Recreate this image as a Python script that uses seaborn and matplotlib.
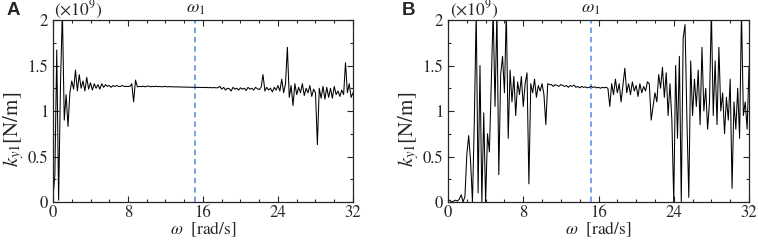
import numpy as np
import pandas as pd
import matplotlib
matplotlib.use("Agg")
import matplotlib.pyplot as plt
from matplotlib.ticker import MultipleLocator, FixedLocator
import seaborn as sns

# frequency grid [rad/s]
omega = np.round(np.arange(0, 161) * 0.2, 1)

# Panel A: k_y1 (x1e9 N/m)
ky1_a = [
    0.05, 0.30, 1.67, 0.02, 1.30, 2.10, 0.90, 1.18, 0.83, 1.20,
    1.33, 1.24, 1.45, 1.22, 1.40, 1.25, 1.33, 1.22, 1.37, 1.24,
    1.31, 1.23, 1.30, 1.25, 1.29, 1.24, 1.30, 1.26, 1.29, 1.27,
    1.28, 1.26, 1.28, 1.27, 1.28, 1.27, 1.27, 1.28, 1.27, 1.27,
    1.27, 1.27, 1.30, 1.10, 1.34, 1.265, 1.27, 1.268, 1.272, 1.266,
    1.27, 1.275, 1.266, 1.27, 1.268, 1.272, 1.267, 1.27, 1.266, 1.268,
    1.27, 1.265, 1.268, 1.266, 1.267, 1.264, 1.266, 1.263, 1.265, 1.262,
    1.264, 1.261, 1.263, 1.26, 1.262, 1.26, 1.261, 1.259, 1.26, 1.258,
    1.26, 1.257, 1.259, 1.256, 1.258, 1.255, 1.258, 1.254, 1.257, 1.27,
    1.24, 1.26, 1.23, 1.25, 1.245, 1.22, 1.26, 1.24, 1.25, 1.23,
    1.255, 1.24, 1.25, 1.225, 1.26, 1.24, 1.25, 1.23, 1.26, 1.245,
    1.235, 1.26, 1.40, 1.22, 1.26, 1.23, 1.25, 1.21, 1.26, 1.23,
    1.28, 1.22, 1.35, 1.20, 1.30, 1.70, 1.15, 1.28, 1.06, 1.30,
    1.18, 1.26, 1.20, 1.30, 1.17, 1.25, 1.20, 1.28, 1.16, 1.24,
    1.20, 0.63, 1.25, 1.14, 1.27, 1.13, 1.26, 1.15, 1.25, 1.14,
    1.27, 1.18, 1.22, 1.16, 1.23, 1.18, 1.53, 1.20, 1.30, 1.15,
    1.20,
]

# Panel B: k_y1 (x1e9 N/m)
ky1_b = [
    0.01, 0.02, 0.00, 0.01, 0.02, 0.01, 0.03, 0.08, 0.00, 0.06,
    0.52, 0.73, 0.45, 0.00, 0.90, 2.10, 0.10, 1.50, 0.00, 0.98,
    0.00, 0.75, 0.55, 1.30, 2.10, 1.05, 2.10, 0.30, 1.40, 1.60,
    1.20, 2.10, 0.70, 1.45, 1.10, 1.38, 0.95, 1.32, 1.18, 1.38,
    1.05, 1.30, 1.42, 0.20, 1.30, 1.20, 1.35, 1.15, 1.28, 1.22,
    1.30, 1.18, 0.85, 1.30, 1.29, 1.29, 1.27, 1.29, 1.28, 1.27,
    1.29, 1.28, 1.27, 1.28, 1.26, 1.28, 1.27, 1.285, 1.26, 1.27,
    1.255, 1.27, 1.26, 1.265, 1.255, 1.26, 1.27, 1.26, 1.265, 1.255,
    1.26, 1.25, 1.26, 1.255, 1.26, 1.25, 1.05, 1.30, 1.18, 1.35,
    1.20, 1.30, 1.10, 1.28, 1.47, 1.20, 1.30, 1.18, 1.32, 1.22,
    1.28, 1.16, 1.30, 1.20, 1.27, 1.22, 1.32, 1.30, 0.90, 1.05,
    1.20, 1.10, 1.40, 1.25, 1.48, 1.15, 1.42, 0.95, 1.30, 0.90,
    0.00, 1.50, 0.70, 1.60, 0.00, 1.80, 1.95, 0.90, 0.05, 1.55,
    0.95, 1.35, 1.05, 1.45, 0.85, 1.70, 1.00, 1.25, 0.80, 1.10,
    2.10, 0.95, 1.55, 0.85, 1.70, 1.00, 1.20, 0.75, 1.15, 0.90,
    1.35, 0.15, 1.10, 0.80, 1.25, 0.70, 2.10, 0.95, 1.10, 0.80,
    1.48,
]

omega_1 = 15.2
panel_labels = ["A", "B"]
x_ticks = [0, 8, 16, 24, 32]
y_ticks = [0, 0.5, 1, 1.5, 2]
y_ticklabels = ["0", "0.5", "1", "1.5", "2"]

assert len(ky1_a) == len(omega) and len(ky1_b) == len(omega)

sns.set_theme(style="ticks")
plt.rcParams["font.family"] = ["STIXGeneral", "DejaVu Serif"]
plt.rcParams["mathtext.fontset"] = "stix"

fig = plt.figure(figsize=(7.58, 2.40), dpi=100)
ax_pos = [
    [53 / 758, 1 - 202 / 240, 300 / 758, 182 / 240],
    [448 / 758, 1 - 202 / 240, 301 / 758, 182 / 240],
]

for pos, data, lab in zip(ax_pos, [ky1_a, ky1_b], panel_labels):
    ax = fig.add_axes(pos)
    df = pd.DataFrame({"omega": omega, "ky1": data})
    sns.lineplot(data=df, x="omega", y="ky1", ax=ax, color="black",
                 lw=0.75, estimator=None, sort=True)
    ax.axvline(omega_1, color="#6b9bea", lw=1.3, ls=(0, (3, 2.2)), zorder=1)
    ax.set_xlim(0, 32)
    ax.set_ylim(0, 2)
    ax.xaxis.set_major_locator(FixedLocator(x_ticks))
    ax.xaxis.set_minor_locator(MultipleLocator(2))
    ax.yaxis.set_major_locator(FixedLocator(y_ticks))
    ax.set_yticklabels(y_ticklabels)
    ax.yaxis.set_minor_locator(MultipleLocator(0.25))
    ax.tick_params(which="both", direction="in", top=True, right=True,
                   width=0.8, labelsize=12)
    ax.tick_params(axis="x", pad=2)
    ax.tick_params(axis="y", pad=3.5)
    ax.tick_params(which="major", length=4)
    ax.tick_params(which="minor", length=2.5)
    for s in ax.spines.values():
        s.set_linewidth(0.9)
    ax.set_xlabel(r"$\omega$  [rad/s]", fontsize=12.5, labelpad=-1)
    ax.set_ylabel(r"$k_{y1}$[N/m]", fontsize=15)
    ax.yaxis.set_label_coords(-0.09, 0.4)
    ax.text(0.005, 0.995, r"$(\times 10^{9})$", transform=ax.transAxes,
            ha="left", va="bottom", fontsize=12.5)
    ax.text(omega_1, 2.03, r"$\omega_1$", ha="center", va="bottom", fontsize=13)
    x0 = pos[0] - 46 / 758
    fig.text(x0, 1 - 2 / 240, lab, ha="left", va="top", fontsize=13.5,
             fontweight="bold", family="Liberation Sans")

fig.savefig("out.png", dpi=100)
